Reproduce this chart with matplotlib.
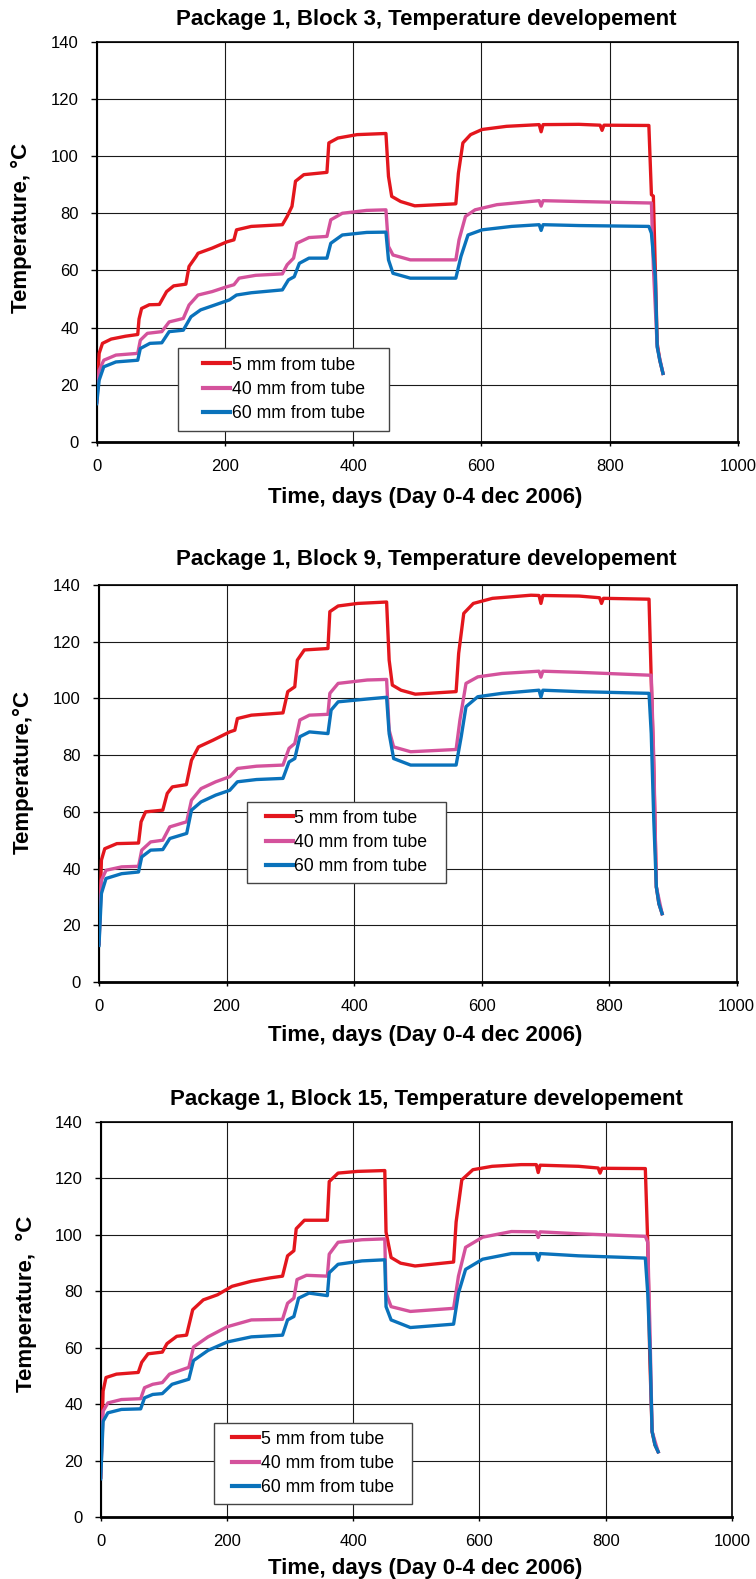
import matplotlib
matplotlib.use('Agg')
import matplotlib.pyplot as plt
from matplotlib.patches import Rectangle

plt.rcParams['font.family'] = ['Liberation Sans', 'DejaVu Sans']

# ---------------- data ----------------
series_labels = ['5 mm from tube', '40 mm from tube', '60 mm from tube']
series_colors = ['#e3161d', '#d4529c', '#0a72bb']

titles = ['Package 1, Block 3, Temperature developement',
          'Package 1, Block 9, Temperature developement',
          'Package 1, Block 15, Temperature developement']
ylabels = ['Temperature, °C', 'Temperature,°C', 'Temperature,  °C']
xlabel_text = 'Time, days (Day 0-4 dec 2006)'
x_ticks = [0, 200, 400, 600, 800, 1000]
y_ticks = [0, 20, 40, 60, 80, 100, 120, 140]

# Block 3
b3_5_days = [0, 3.8, 9, 22.6, 45, 64, 66, 70, 82, 97.7, 109, 120, 139, 144, 155, 158, 180, 203, 214, 218, 241,
             289.5, 297, 304.5, 310, 323, 359, 362, 376, 406, 451, 455, 460, 474, 496, 560, 564, 571, 583, 601,
             639, 690, 693, 696, 752, 785, 788, 791, 861, 865, 868, 871, 874, 878, 883]
b3_5_temp = [14, 31, 34.5, 36, 37, 37.6, 43, 46.7, 48, 48.1, 52.6, 54.6, 55.2, 61.4, 64.9, 66, 67.8, 70, 70.7, 74.2, 75.4,
             76, 78.9, 82.4, 91.2, 93.5, 94.3, 104.6, 106.3, 107.5, 107.9, 92.9, 85.9, 84.1, 82.6, 83.3, 94, 104.6, 107.5, 109.3,
             110.4, 111, 108.5, 111, 111.1, 110.8, 109, 110.8, 110.7, 86.5, 86, 61, 34.5, 28.6, 24]
b3_40_days = [0, 3.8, 11, 30, 64, 68, 79, 101.5, 113, 135, 144, 158, 180, 203, 214, 222, 248, 289.5, 297, 307, 312,
              331, 359, 365, 383, 421, 451, 455, 462, 489, 560, 565, 575, 590, 624, 690, 693, 696, 752, 861, 865,
              868, 874, 883]
b3_40_temp = [14, 25, 28.6, 30.4, 31, 35.6, 38, 38.6, 42, 43.2, 47.9, 51.4, 52.6, 54.3, 55, 57.3, 58.3, 58.8, 62, 64.3, 69.5,
              71.5, 71.9, 77.7, 80, 81, 81.2, 68.4, 65.4, 63.7, 63.7, 70.7, 78.9, 81.2, 83, 84.4, 82.5, 84.4, 84.1, 83.6, 83.6,
              61.3, 33.3, 24]
b3_60_days = [0, 3.8, 11, 30, 64, 68, 83, 101.5, 113, 135, 147, 162, 184, 207, 218, 241, 289.5, 299, 308, 316, 331,
              359, 365, 383, 421, 451, 455, 462, 489, 560, 568, 579, 601, 647, 690, 693, 696, 752, 861, 865, 871,
              874, 878, 883]
b3_60_temp = [13.4, 21.6, 26.3, 28, 28.6, 32.7, 34.5, 34.7, 38.6, 39.1, 43.8, 46.2, 47.9, 49.7, 51.4, 52.2, 53.2, 56.7, 57.8,
              62.5, 64.3, 64.3, 69.5, 72.4, 73.3, 73.4, 63.7, 59, 57.3, 57.3, 64.9, 72.4, 74.2, 75.4, 76, 74, 76, 75.7, 75.4,
              73, 57.8, 33.3, 28.6, 24]

# Block 9
b9_5_days = [0, 3.8, 9, 28, 62, 66, 73, 100, 107, 115, 137, 145, 156, 179, 205, 213, 217, 239, 288.5, 296, 307, 311,
             322, 359, 362, 375, 405.6, 451, 455, 460, 473.6, 496, 560, 564, 572, 587, 617, 677.5, 690, 693, 696,
             753, 785, 788, 791, 862.5, 866, 870, 874, 878, 883]
b9_5_temp = [13.5, 43, 47, 48.8, 49, 56.5, 60, 60.6, 66.5, 68.8, 69.6, 78.2, 82.9, 85.3, 88.2, 88.8, 92.9, 94.1, 94.9, 102.4,
             104.1, 113.5, 117.1, 117.6, 130.6, 132.6, 133.5, 134, 113.5, 104.7, 102.9, 101.5, 102.4, 115.9, 130, 133.5,
             135.3, 136.4, 136.3, 133.5, 136.3, 136.1, 135.5, 133.5, 135.3, 135, 106.5, 74.7, 33.5, 27.6, 24.1]
b9_40_days = [0, 3.8, 11, 35.5, 62, 67, 81, 100, 111, 137.5, 145, 160, 183, 205, 217, 247, 288.5, 298, 307, 315, 330,
              359, 362, 375, 420.7, 451, 455, 462, 488.7, 560, 566, 575.5, 594, 632, 690, 693, 696, 753, 862.5, 866,
              870, 874, 883]
b9_40_temp = [13.5, 35.9, 39.4, 40.6, 40.8, 46.5, 49.4, 50, 54.7, 56.5, 64.1, 68.2, 70.6, 72.4, 75.3, 76.1, 76.5, 82.4, 84.1,
              92.4, 94.1, 94.4, 101.8, 105.3, 106.5, 106.7, 88.8, 82.9, 81.2, 82, 92.4, 105.3, 107.6, 108.8, 109.6, 107.5,
              109.6, 109.2, 108.2, 108.2, 78.2, 33.5, 24.1]
b9_60_days = [0, 3.8, 11, 35.5, 62, 67, 81, 100, 111, 137.5, 145, 160, 183, 205, 217, 247, 288.5, 298, 307, 315, 330,
              359, 364, 375, 420.7, 451, 455, 462, 488.7, 560, 568, 575.5, 594, 632, 690, 693, 696, 753, 862.5, 866,
              870, 874, 878, 883]
b9_60_temp = [12.9, 31.2, 36.5, 38.2, 38.8, 44.1, 46.5, 46.7, 50.6, 52.4, 60.6, 63.5, 65.9, 67.6, 70.6, 71.4, 71.8, 77.6,
              78.8, 86.5, 88.2, 87.6, 95.9, 98.8, 99.8, 100.4, 87.6, 78.8, 76.5, 76.5, 86.5, 97.1, 100.6, 101.8, 102.9, 100.5,
              102.9, 102.4, 101.8, 87.6, 57, 33.5, 27.6, 24.1]

# Block 15
b15_5_days = [0, 3.8, 8.4, 25, 59.5, 65, 75, 97.6, 105, 120.5, 136, 145.7, 162.5, 185, 208, 238.7, 269, 288, 296, 306,
              309.7, 322.7, 359, 362, 376, 406.6, 450, 452, 460, 475, 498, 559, 563, 572, 589.6, 620, 666, 690, 693,
              696, 757, 788, 791, 794, 862.7, 866.5, 869.6, 873.4, 878, 883]
b15_5_temp = [14.1, 44.6, 49.4, 50.6, 51.2, 54.8, 57.8, 58.4, 61.4, 64, 64.4, 73.4, 76.9, 78.7, 81.7, 83.5, 84.7, 85.3, 92.5,
              94.3, 102.1, 105.1, 105.1, 118.8, 121.8, 122.4, 122.7, 100.9, 91.9, 89.9, 88.9, 90.3, 104.5, 119.4, 123, 124.2,
              124.8, 124.8, 122, 124.6, 124.2, 123.6, 121.8, 123.5, 123.4, 97.3, 57.8, 30.3, 25.5, 23.1]
b15_40_days = [0, 3.8, 11.4, 32.8, 63.3, 69.4, 82.4, 97.6, 109, 139.6, 147, 170, 200.6, 238.7, 288, 296, 306, 311, 326,
               359, 362, 376, 414, 450, 452, 460, 490.5, 559, 566.7, 578, 605, 650.6, 690, 693, 696, 757, 862.7, 866.5,
               870.3, 873.4, 883]
b15_40_temp = [14.1, 37.5, 40.4, 41.6, 41.9, 45.8, 47, 47.6, 50.6, 53, 60.2, 63.8, 67.4, 69.8, 70, 75.7, 77.5, 84.1, 85.6,
               85.3, 93.1, 97.3, 98.2, 98.5, 79.3, 74.5, 72.8, 73.9, 85.3, 95.5, 99.1, 101.1, 101, 99, 101, 100.3, 99.4, 97.3,
               63.8, 30.3, 23.1]
b15_60_days = [0, 3.8, 11.4, 32.8, 63.3, 69.4, 82.4, 97.6, 113, 139.6, 147, 170, 200.6, 238.7, 288, 296, 306, 313.5, 330,
               359, 362, 376, 414, 450, 452, 460, 490.5, 559, 566.7, 578, 605, 650.6, 690, 693, 696, 757, 862.7, 866.5,
               870.3, 873.4, 878, 883]
b15_60_temp = [13.5, 33.9, 36.9, 38.1, 38.3, 42.2, 43.4, 43.7, 47, 48.8, 55.4, 59, 62, 63.8, 64.4, 69.8, 71, 77.5, 79.3,
               78.4, 86.5, 89.5, 90.7, 91.1, 74.5, 69.8, 67.1, 68.3, 79.3, 87.7, 91.3, 93.3, 93.3, 91, 93.3, 92.5, 91.7, 79.3,
               57.8, 30.3, 25.5, 23.1]

panel_data = [
    [(b3_5_days, b3_5_temp), (b3_40_days, b3_40_temp), (b3_60_days, b3_60_temp)],
    [(b9_5_days, b9_5_temp), (b9_40_days, b9_40_temp), (b9_60_days, b9_60_temp)],
    [(b15_5_days, b15_5_temp), (b15_40_days, b15_40_temp), (b15_60_days, b15_60_temp)],
]

# ---------------- layout (pixels of a 756x1579 canvas) ----------------
W, H = 756, 1579
axes_px = [(96.7, 41.7, 738.0, 442.0),
           (99.0, 585.0, 736.7, 982.0),
           (100.7, 1121.7, 732.0, 1517.0)]
title_base_px = [25, 565, 1105]
xlabel_base_px = [503, 1041, 1574]
ylabel_pos_px = [(21, 228), (23, 772), (26, 1304)]
legend_box_ax = [(0.127, 0.028, 0.456, 0.234),
                 (0.2326, 0.249, 0.544, 0.454),
                 (0.180, 0.033, 0.493, 0.238)]

fig = plt.figure(figsize=(W / 100, H / 100), dpi=100)

for i in range(3):
    l, t, r, b = axes_px[i]
    ax = fig.add_axes([l / W, 1 - b / H, (r - l) / W, (b - t) / H])
    for (d, temp), col, lab in zip(panel_data[i], series_colors, series_labels):
        ax.plot(d, temp, color=col, lw=2.4, label=lab, solid_joinstyle='round', zorder=3)
    ax.set_xlim(0, 1000)
    ax.set_ylim(0, 140)
    ax.set_xticks(x_ticks)
    ax.set_yticks(y_ticks)
    ax.grid(True, color='#1a1a1a', lw=0.8, zorder=1)
    ax.set_axisbelow(True)
    ax.tick_params(axis='both', direction='out', labelsize=12, width=1, colors='black')
    ax.tick_params(axis='x', length=3, pad=9)
    ax.tick_params(axis='y', length=4, pad=9)
    ax.spines['bottom'].set_linewidth(2.0)
    ax.spines['left'].set_linewidth(1.5)
    ax.spines['top'].set_linewidth(1.2)
    ax.spines['right'].set_linewidth(1.2)
    for s in ax.spines.values():
        s.set_color('black')

    # legend frame + legend
    x0, y0, x1, y1 = legend_box_ax[i]
    ax.add_patch(Rectangle((x0, y0), x1 - x0, y1 - y0, transform=ax.transAxes,
                           facecolor='white', edgecolor='#444444', lw=1.0, zorder=4))
    leg = ax.legend(loc='center', bbox_to_anchor=((x0 + x1) / 2, (y0 + y1) / 2),
                    frameon=False, fontsize=12.7, handlelength=1.53, handletextpad=0.1,
                    labelspacing=0.42, borderaxespad=0, borderpad=0)
    leg.set_zorder(5)
    for ln in leg.get_lines():
        ln.set_linewidth(3.0)

    fig.text(426 / W, 1 - title_base_px[i] / H, titles[i], ha='center', va='baseline',
             fontsize=16, fontweight='bold')
    fig.text(425 / W, 1 - xlabel_base_px[i] / H, xlabel_text, ha='center', va='baseline',
             fontsize=16, fontweight='bold')
    yx, yy = ylabel_pos_px[i]
    fig.text(yx / W, 1 - yy / H, ylabels[i], ha='center', va='center', rotation=90,
             fontsize=16, fontweight='bold')

fig.savefig('out.png', dpi=100, facecolor='white')
